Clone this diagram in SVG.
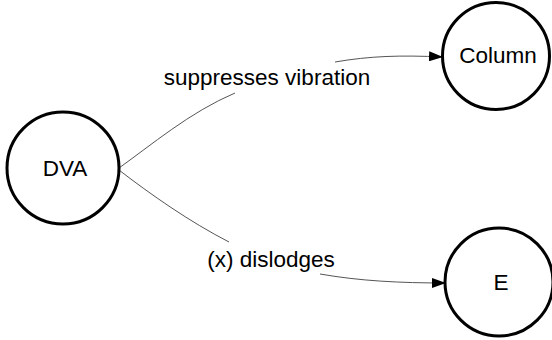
<svg xmlns="http://www.w3.org/2000/svg" width="552" height="340" viewBox="0 0 552 340">
  <style>
    .node circle { fill: #ffffff; stroke: #000000; stroke-width: 3; }
    .node text, .label { font-family: "Liberation Sans", Arial, sans-serif; font-size: 22.5px; fill: #000000; text-anchor: middle; }
    .edge { fill: none; stroke: #555555; stroke-width: 1; }
  </style>
  <defs>
    <marker id="arrow" markerUnits="userSpaceOnUse" markerWidth="14" markerHeight="10" refX="14" refY="5" orient="auto">
      <path d="M0,0 L14,5 L0,10 z" fill="#000000"/>
    </marker>
  </defs>

  <g id="connectors">
    <!-- DVA to Column, split around its label -->
    <path class="edge" d="M119,168 C150,146 190,112 235,93"/>
    <path class="edge" d="M335,62 C370,56 400,55 443,57" marker-end="url(#arrow)"/>
    <text class="label" x="267" y="85">suppresses vibration</text>
    <!-- DVA to E, split around its label -->
    <path class="edge" d="M119,170 C150,194 190,222 229,242"/>
    <path class="edge" d="M320,274 C360,281 400,283 446,283" marker-end="url(#arrow)"/>
    <text class="label" x="271" y="267">(x) dislodges</text>
  </g>

  <g id="node-dva" class="node">
    <circle cx="63" cy="168" r="56"/>
    <text x="65" y="176">DVA</text>
  </g>
  <g id="node-column" class="node">
    <circle cx="496" cy="56" r="53.5"/>
    <text x="498" y="63">Column</text>
  </g>
  <g id="node-e" class="node">
    <circle cx="499" cy="282" r="54"/>
    <text x="501" y="290">E</text>
  </g>
</svg>
